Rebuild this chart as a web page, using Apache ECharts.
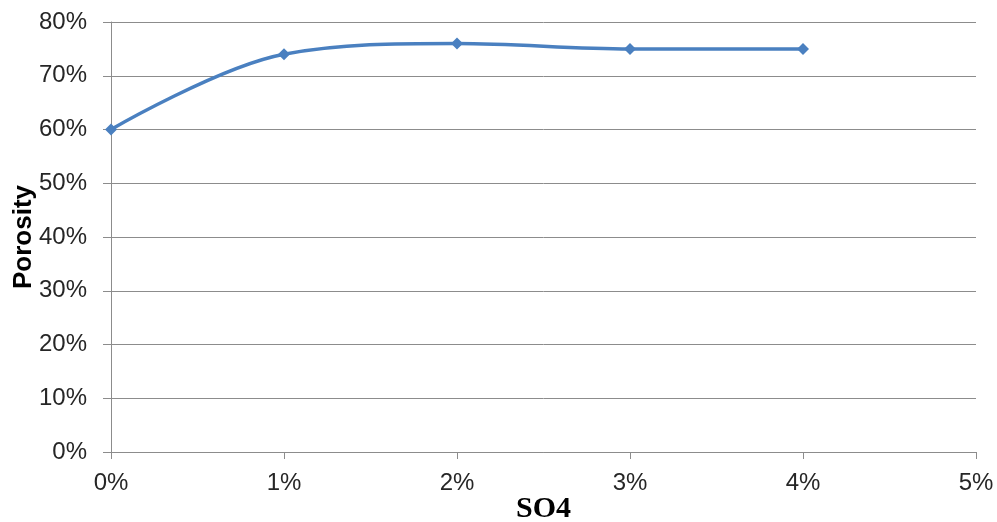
<!DOCTYPE html>
<html>
<head>
<meta charset="utf-8">
<script src="https://cdn.jsdelivr.net/npm/echarts@6/dist/echarts.min.js"></script>
<style>html,body{margin:0;padding:0;background:#fff;}#c{width:997px;height:522px;}</style>
</head>
<body>
<div id="c"></div>
<script>
const so4 = [0, 1, 2, 3, 4];
const porosity = [60, 74, 76, 75, 75];
const xTitle = 'SO4';
const yTitle = 'Porosity';

const chart = echarts.init(document.getElementById('c'), null, {renderer: 'canvas'});
const axisGray = '#8c8c8c';
chart.setOption({
  animation: false,
  backgroundColor: '#fff',
  grid: {left: 111, right: 21, top: 22, bottom: 70, containLabel: false, outerBoundsMode: 'none'},
  xAxis: {
    type: 'value', min: 0, max: 5, interval: 1,
    name: xTitle, nameLocation: 'middle', nameGap: 42, nameMoveOverlap: false,
    nameTextStyle: {fontFamily: 'Liberation Serif', fontWeight: 'bold', fontSize: 30, color: '#000'},
    axisLine: {show: true, lineStyle: {color: axisGray, width: 1}},
    axisTick: {show: true, length: 7, lineStyle: {color: axisGray}},
    axisLabel: {formatter: v => v + '%', fontFamily: 'Liberation Sans', fontSize: 24, color: '#262626', margin: 19},
    splitLine: {show: false}
  },
  yAxis: {
    type: 'value', min: 0, max: 80, interval: 10,
    name: yTitle, nameLocation: 'middle', nameGap: 74, nameRotate: 90, nameMoveOverlap: false,
    nameTextStyle: {fontFamily: 'Liberation Sans', fontWeight: 'bold', fontSize: 26, color: '#000'},
    axisLine: {show: true, lineStyle: {color: axisGray, width: 1}},
    axisTick: {show: true, length: 8, lineStyle: {color: axisGray}},
    axisLabel: {formatter: v => v + '%', fontFamily: 'Liberation Sans', fontSize: 24, color: '#262626', margin: 24},
    splitLine: {show: true, lineStyle: {color: axisGray, width: 1}}
  },
  series: [{
    type: 'line',
    data: so4.map((x, i) => [x, porosity[i]]),
    smooth: 0.35,
    symbol: 'diamond', symbolSize: 12,
    lineStyle: {color: '#4a80c0', width: 3.5},
    itemStyle: {color: '#4a80c0'}
  }]
});
</script>
</body>
</html>
